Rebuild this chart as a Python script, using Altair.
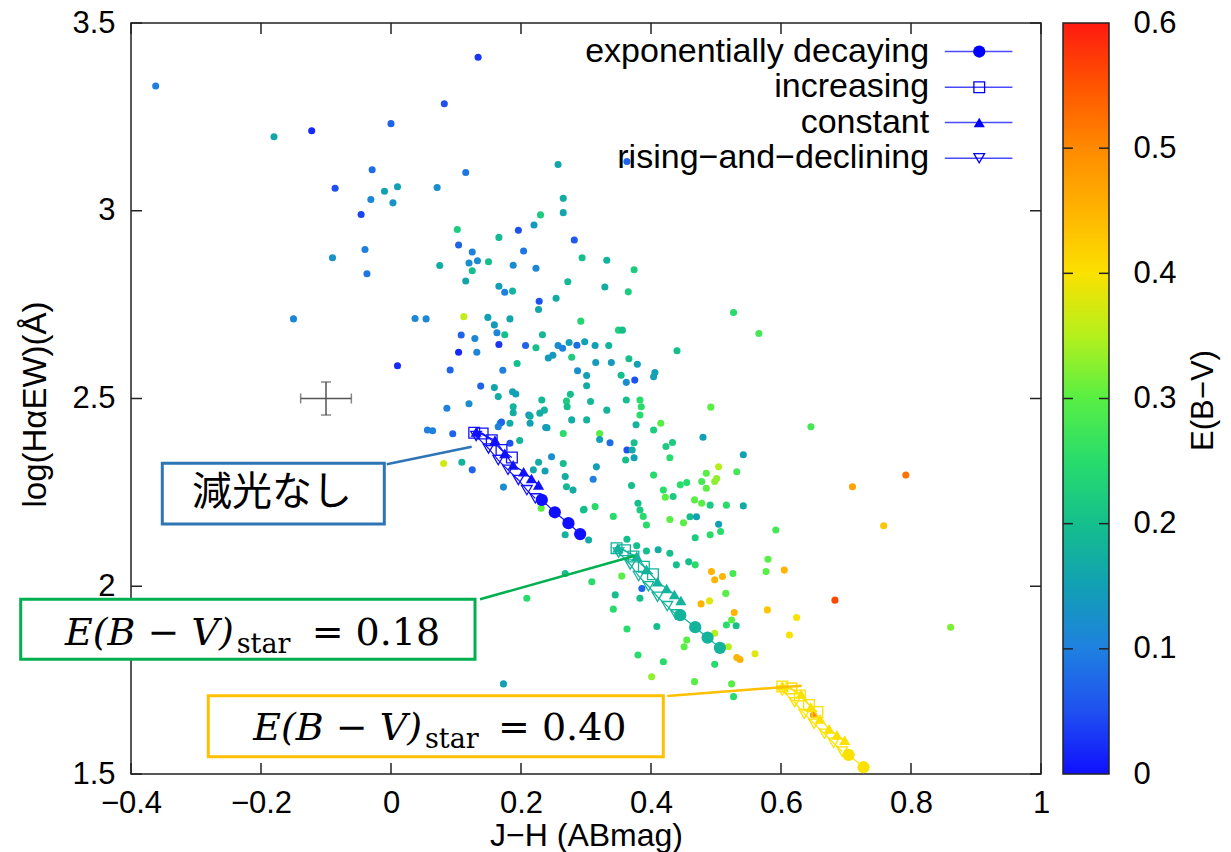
import altair as alt
import pandas as pd

SANS = "Liberation Sans"
SERIF = "DejaVu Serif"
CJK = "Noto Sans CJK JP"

# ---------------- observed galaxies: J-H, log(Ha EW), E(B-V) ----------------
JH = [
    -0.362, 0.134, 0.082, 0.000, -0.180, -0.122, 0.257, -0.029, 0.115, -0.086,
    -0.010, 0.010, 0.071, -0.031, 0.003, 0.265, -0.046, 0.265, 0.230, 0.102,
    0.220, 0.196, 0.166, 0.282, 0.104, -0.040, 0.125, 0.204, -0.090, 0.133,
    0.120, 0.150, 0.294, 0.332, 0.075, 0.188, 0.223, 0.125, -0.037, 0.115,
    0.272, 0.166, 0.175, 0.187, 0.329, 0.365, 0.254, 0.228, 0.227, -0.150,
    0.037, 0.054, 0.112, 0.149, 0.183, 0.292, 0.159, 0.163, 0.175, 0.233,
    0.350, 0.356, 0.108, 0.129, 0.166, 0.207, 0.223, 0.257, 0.264, 0.274,
    0.286, 0.298, 0.314, 0.335, 0.104, 0.132, 0.278, 0.242, 0.249, 0.315,
    0.339, 0.366, 0.194, 0.010, 0.091, 0.172, 0.287, 0.301, 0.354, 0.362,
    0.138, 0.159, 0.187, 0.192, 0.165, 0.301, 0.276, 0.270, 0.232, 0.307,
    0.362, 0.086, 0.120, 0.188, 0.236, 0.271, 0.332, 0.056, 0.064, 0.095,
    0.081, 0.109, 0.125, 0.173, 0.183, 0.198, 0.168, 0.183, 0.212, 0.214,
    0.229, 0.238, 0.247, 0.227, 0.219, 0.237, 0.265, 0.268, 0.270, 0.296,
    0.314, 0.265, 0.278, 0.301, 0.316, 0.311, 0.321, 0.337, 0.363, 0.342,
    0.268, 0.304, 0.268, 0.309, 0.209, 0.345, 0.342, 0.173, 0.363, 0.188,
    0.214, 0.240, 0.170, 0.165, 0.383, 0.385, 0.383, 0.375, 0.415, 0.404,
    0.377, 0.321, 0.374, 0.371, 0.374, 0.361, 0.423, 0.433, 0.429, 0.404,
    0.419, 0.422, 0.434, 0.429, 0.370, 0.380, 0.383, 0.388, 0.393, 0.297,
    0.280, 0.231, 0.409, 0.380, 0.419, 0.401, 0.383, 0.386, 0.429, 0.411,
    0.393, 0.363, 0.378, 0.439, 0.646, 0.792, 0.710, 0.758, 0.683, 0.861,
    0.592, 0.580, 0.577, 0.605, 0.579, 0.624, 0.613, 0.560, 0.542, 0.542,
    0.532, 0.504, 0.501, 0.498, 0.485, 0.478, 0.485, 0.480, 0.492, 0.467,
    0.478, 0.491, 0.516, 0.504, 0.507, 0.491, 0.468, 0.450, 0.460, 0.470,
    0.445, 0.455, 0.458, 0.468, 0.493, 0.498, 0.510, 0.526, 0.515, 0.490,
    0.477, 0.528, 0.524, 0.516, 0.531, 0.498, 0.455, 0.451, 0.519, 0.532,
    0.537, 0.498, 0.524, 0.527, 0.467, 0.355, 0.650, 0.363, 0.374, 0.440,
    0.379, 0.406, 0.404, 0.527, 0.566,
]
LOG_EW = [
    3.332, 3.409, 3.285, 3.232, 3.197, 3.213, 3.123, 3.109, 3.102, 3.060,
    3.052, 3.064, 3.062, 3.030, 3.021, 3.033, 2.990, 2.995, 2.989, 2.950,
    2.962, 2.948, 2.929, 2.922, 2.909, 2.897, 2.890, 2.893, 2.875, 2.867,
    2.861, 2.864, 2.875, 2.868, 2.854, 2.855, 2.847, 2.840, 2.832, 2.813,
    2.811, 2.799, 2.783, 2.786, 2.797, 2.784, 2.767, 2.759, 2.737, 2.712,
    2.713, 2.712, 2.718, 2.716, 2.712, 2.706, 2.696, 2.675, 2.670, 2.670,
    2.682, 2.682, 2.669, 2.660, 2.644, 2.641, 2.635, 2.641, 2.634, 2.649,
    2.642, 2.651, 2.641, 2.641, 2.623, 2.623, 2.610, 2.608, 2.615, 2.596,
    2.596, 2.606, 2.593, 2.587, 2.576, 2.575, 2.574, 2.561, 2.562, 2.543,
    2.533, 2.529, 2.518, 2.512, 2.505, 2.534, 2.511, 2.493, 2.496, 2.492,
    2.496, 2.474, 2.486, 2.478, 2.469, 2.478, 2.469, 2.416, 2.414, 2.406,
    2.327, 2.330, 2.310, 2.264, 2.381, 2.388, 2.434, 2.434, 2.456, 2.434,
    2.461, 2.423, 2.345, 2.330, 2.310, 2.307, 2.327, 2.292, 2.265, 2.203,
    2.212, 2.407, 2.443, 2.443, 2.318, 2.285, 2.407, 2.382, 2.363, 2.186,
    2.137, 2.123, 2.034, 2.012, 1.968, 1.977, 1.939, 1.740, 1.886, 2.462,
    2.453, 2.422, 2.437, 2.425, 2.496, 2.478, 2.456, 2.549, 2.434, 2.416,
    2.430, 2.391, 2.382, 2.363, 2.342, 2.336, 2.372, 2.383, 2.342, 2.296,
    2.256, 2.237, 2.239, 2.178, 2.268, 2.221, 2.203, 2.186, 2.163, 2.205,
    2.256, 2.208, 1.893, 1.817, 1.799, 1.759, 1.968, 1.994, 2.088, 2.097,
    2.094, 2.125, 2.108, 2.057, 2.425, 2.296, 2.265, 2.161, 1.963, 1.891,
    2.150, 2.072, 2.039, 2.043, 1.937, 1.917, 1.870, 1.820, 2.350, 2.214,
    2.305, 2.318, 2.287, 2.279, 2.301, 2.279, 2.261, 2.397, 2.477, 2.230,
    2.221, 2.216, 2.216, 2.165, 2.146, 2.137, 2.129, 2.169, 2.185, 2.185,
    2.270, 2.276, 2.065, 2.057, 2.039, 2.017, 2.026, 2.034, 1.981, 1.961,
    1.953, 1.930, 1.910, 1.897, 1.895, 1.875, 1.857, 1.839, 1.839, 1.810,
    1.805, 1.792, 1.740, 1.706, 1.746, 2.027, 1.657, 3.131, 2.843, 2.627,
    2.591, 2.569, 2.558, 2.729, 2.673,
]
EBV = [
    0.10, 0.03, 0.05, 0.07, 0.16, 0.02, 0.16, 0.08, 0.09, 0.05,
    0.15, 0.15, 0.12, 0.11, 0.13, 0.17, 0.04, 0.16, 0.22, 0.22,
    0.14, 0.05, 0.19, 0.06, 0.07, 0.10, 0.10, 0.09, 0.13, 0.12,
    0.12, 0.20, 0.20, 0.18, 0.17, 0.12, 0.11, 0.20, 0.09, 0.16,
    0.19, 0.15, 0.10, 0.18, 0.17, 0.22, 0.17, 0.05, 0.16, 0.11,
    0.11, 0.11, 0.36, 0.15, 0.16, 0.24, 0.14, 0.11, 0.20, 0.19,
    0.23, 0.20, 0.07, 0.11, 0.03, 0.07, 0.20, 0.12, 0.10, 0.15,
    0.08, 0.15, 0.15, 0.18, 0.02, 0.11, 0.22, 0.14, 0.14, 0.14,
    0.14, 0.20, 0.20, 0.02, 0.07, 0.10, 0.12, 0.15, 0.20, 0.12,
    0.07, 0.16, 0.15, 0.15, 0.17, 0.17, 0.20, 0.22, 0.19, 0.19,
    0.20, 0.10, 0.12, 0.18, 0.18, 0.20, 0.18, 0.10, 0.10, 0.07,
    0.37, 0.18, 0.07, 0.12, 0.05, 0.18, 0.15, 0.17, 0.12, 0.15,
    0.17, 0.13, 0.12, 0.17, 0.16, 0.15, 0.20, 0.17, 0.19, 0.22,
    0.25, 0.25, 0.17, 0.18, 0.15, 0.10, 0.30, 0.08, 0.05, 0.25,
    0.18, 0.17, 0.20, 0.25, 0.25, 0.20, 0.25, 0.15, 0.25, 0.17,
    0.17, 0.15, 0.07, 0.10, 0.25, 0.25, 0.25, 0.05, 0.30, 0.22,
    0.18, 0.15, 0.20, 0.17, 0.15, 0.20, 0.22, 0.22, 0.25, 0.25,
    0.25, 0.30, 0.22, 0.30, 0.20, 0.20, 0.22, 0.25, 0.25, 0.20,
    0.17, 0.30, 0.20, 0.25, 0.25, 0.33, 0.20, 0.07, 0.20, 0.17,
    0.20, 0.20, 0.20, 0.20, 0.28, 0.52, 0.47, 0.43, 0.56, 0.32,
    0.28, 0.30, 0.30, 0.45, 0.43, 0.40, 0.40, 0.38, 0.15, 0.17,
    0.28, 0.35, 0.33, 0.33, 0.30, 0.28, 0.30, 0.15, 0.30, 0.30,
    0.30, 0.22, 0.25, 0.15, 0.25, 0.25, 0.22, 0.30, 0.20, 0.15,
    0.25, 0.25, 0.20, 0.25, 0.45, 0.45, 0.45, 0.28, 0.30, 0.38,
    0.45, 0.45, 0.30, 0.25, 0.20, 0.35, 0.30, 0.30, 0.35, 0.45,
    0.45, 0.25, 0.30, 0.25, 0.30, 0.30, 0.50, 0.07, 0.22, 0.20,
    0.15, 0.15, 0.15, 0.25, 0.28,
]
assert len(JH) == len(LOG_EW) == len(EBV)

# ---------------- model tracks (one list per E(B-V)_star) ----------------
TRACK_EBV = [0.0, 0.18, 0.40]
EXP_X = [[0.232, 0.252, 0.273, 0.291], [0.445, 0.468, 0.487, 0.506], [0.704, 0.727]]
EXP_Y = [[2.230, 2.197, 2.168, 2.139], [1.923, 1.891, 1.863, 1.836], [1.551, 1.518]]
INC_X = [[0.128, 0.141, 0.155, 0.170, 0.186], [0.347, 0.360, 0.373, 0.389, 0.403],
         [0.602, 0.616, 0.629, 0.643, 0.656]]
INC_Y = [[2.409, 2.407, 2.389, 2.363, 2.343], [2.101, 2.096, 2.079, 2.052, 2.032],
         [1.733, 1.728, 1.709, 1.684, 1.665]]
CON_X = [[0.131, 0.160, 0.175, 0.188, 0.204, 0.216, 0.227],
         [0.349, 0.378, 0.393, 0.410, 0.424, 0.436, 0.446],
         [0.602, 0.631, 0.646, 0.660, 0.674, 0.686, 0.698]]
CON_Y = [[2.411, 2.389, 2.354, 2.323, 2.305, 2.287, 2.270],
         [2.102, 2.080, 2.045, 2.012, 1.994, 1.978, 1.962],
         [1.735, 1.713, 1.678, 1.647, 1.620, 1.604, 1.590]]
RIS_X = [[0.131, 0.150, 0.165, 0.180, 0.196, 0.209, 0.222],
         [0.350, 0.368, 0.381, 0.396, 0.410, 0.425, 0.438],
         [0.602, 0.621, 0.636, 0.651, 0.667, 0.681, 0.694]]
RIS_Y = [[2.400, 2.367, 2.336, 2.310, 2.283, 2.256, 2.234],
         [2.090, 2.058, 2.027, 2.000, 1.972, 1.947, 1.925],
         [1.722, 1.691, 1.660, 1.634, 1.607, 1.583, 1.560]]

SFH_NAMES = ["exponentially decaying", "increasing", "constant", "rising\u2212and\u2212declining"]
LEGEND_Y = [3.424, 3.329, 3.235, 3.140]

XTICKS = [-0.4, -0.2, 0.0, 0.2, 0.4, 0.6, 0.8, 1.0]
YTICKS = [1.5, 2.0, 2.5, 3.0, 3.5]
CB_VALUES = [0, 0.1, 0.2, 0.3, 0.4, 0.5, 0.6]
CB_INNER_TICKS = [0.1, 0.2, 0.3, 0.4, 0.5]
CB_STOPS = [0, 0.05, 0.1, 0.15, 0.2, 0.25, 0.3, 0.35, 0.4, 0.45, 0.5, 0.55, 0.6]
CB_COLORS = ["#1010ff", "#1f50f0", "#1f80e0", "#12a0b4", "#14bf8c", "#28dc6c", "#58ef44",
             "#b4f01c", "#fbe100", "#ffb400", "#ff8a00", "#ff5400", "#ff1a10"]

# error bar (typical uncertainty)
ERR_X, ERR_Y, ERR_DX, ERR_DY = -0.100, 2.500, 0.039, 0.044

W, H = 910, 751
CB_X0, CB_X1 = 932, 978          # colorbar left/right, relative to plot origin

# ---------------- build tables ----------------
df_sc = pd.DataFrame({"x": JH, "y": LOG_EW, "e": EBV})

rows = []
for name, XS, YS in zip(SFH_NAMES, [EXP_X, INC_X, CON_X, RIS_X], [EXP_Y, INC_Y, CON_Y, RIS_Y]):
    for e, xs, ys in zip(TRACK_EBV, XS, YS):
        for i, (xv, yv) in enumerate(zip(xs, ys)):
            rows.append({"sfh": name, "e": e, "i": i, "x": xv, "y": yv})
df_tr = pd.DataFrame(rows)

df_leg = pd.DataFrame({"label": SFH_NAMES, "y": LEGEND_Y})
df_err = pd.DataFrame({"x": [ERR_X], "y": [ERR_Y],
                       "xlo": [ERR_X - ERR_DX], "xhi": [ERR_X + ERR_DX],
                       "ylo": [ERR_Y - ERR_DY], "yhi": [ERR_Y + ERR_DY]})

xs = alt.Scale(domain=[-0.4, 1.0], nice=False, zero=False)
ys = alt.Scale(domain=[1.5, 3.5], nice=False, zero=False)
cs = alt.Scale(domain=CB_STOPS, range=CB_COLORS, interpolate="rgb")

xaxis = alt.Axis(values=XTICKS, format="~g", labelFont=SANS, labelFontSize=31, labelColor="black",
                 labelPadding=14, labelFlush=False, labelOverlap=False, ticks=False, domain=False,
                 grid=False, title="J\u2212H (ABmag)", titleFont=SANS, titleFontSize=32,
                 titleFontWeight="normal", titleColor="black", titleBaseline="alphabetic", titleY=71)
yaxis = alt.Axis(values=YTICKS, format="~g", labelFont=SANS, labelFontSize=31, labelColor="black",
                 labelPadding=16, labelFlush=False, labelOverlap=False, ticks=False, domain=False,
                 grid=False, title="log(H\u03b1EW)(\u00c5)", titleFont=SANS, titleFontSize=33,
                 titleFontWeight="normal", titleColor="black", titleAngle=270, titleX=-96,
                 titleY=381, titleAlign="center", titleBaseline="middle")

layers = []

scatter = alt.Chart(df_sc).mark_circle(size=50, opacity=1).encode(
    x=alt.X("x:Q", scale=xs, axis=xaxis),
    y=alt.Y("y:Q", scale=ys, axis=yaxis),
    color=alt.Color("e:Q", scale=cs, legend=None),
)
layers.append(scatter)

# error bar
eb_col = "#555555"
layers.append(alt.Chart(df_err).mark_rule(color=eb_col, strokeWidth=1.5).encode(
    x="xlo:Q", x2="xhi:Q", y="y:Q"))
layers.append(alt.Chart(df_err).mark_rule(color=eb_col, strokeWidth=1.5).encode(
    x="x:Q", y="ylo:Q", y2="yhi:Q"))
for fx in ["xlo", "xhi"]:
    layers.append(alt.Chart(df_err).mark_tick(orient="vertical", size=10, thickness=1.5,
                                              color=eb_col).encode(x=f"{fx}:Q", y="y:Q"))
for fy in ["ylo", "yhi"]:
    layers.append(alt.Chart(df_err).mark_tick(orient="horizontal", size=10, thickness=1.5,
                                              color=eb_col).encode(x="x:Q", y=f"{fy}:Q"))

# model tracks
SHAPES = {
    SFH_NAMES[0]: dict(shape="circle", filled=True, size=150),
    SFH_NAMES[1]: dict(shape="square", filled=False, size=115),
    SFH_NAMES[2]: dict(shape="triangle-up", filled=True, size=125),
    SFH_NAMES[3]: dict(shape="triangle-down", filled=False, size=115),
}
for name in SFH_NAMES:
    base = alt.Chart(df_tr).transform_filter(alt.datum.sfh == name)
    layers.append(base.mark_line(strokeWidth=1.2, clip=True).encode(
        x="x:Q", y="y:Q", color=alt.Color("e:Q", scale=cs, legend=None), detail="e:N",
        order="i:Q"))
    st = SHAPES[name]
    layers.append(base.mark_point(shape=st["shape"], filled=st["filled"], size=st["size"],
                                  opacity=1, strokeWidth=1.3, clip=True).encode(
        x="x:Q", y="y:Q", color=alt.Color("e:Q", scale=cs, legend=None)))

# manual legend (labels left of symbols)
LEG_BLUE = "#0000ff"
layers.append(alt.Chart(df_leg).mark_text(align="right", baseline="middle", font=SANS,
                                          fontSize=34, color="black").encode(
    x=alt.datum(0.828), y="y:Q", text="label:N"))
layers.append(alt.Chart(df_leg).mark_rule(color="#4a4aff", strokeWidth=1.5).encode(
    x=alt.datum(0.852), x2=alt.datum(0.956), y="y:Q"))
for name in SFH_NAMES:
    st = SHAPES[name]
    layers.append(alt.Chart(df_leg).transform_filter(alt.datum.label == name).mark_point(
        shape=st["shape"], filled=st["filled"], size=st["size"], opacity=1, strokeWidth=1.3,
        color=LEG_BLUE).encode(x=alt.datum(0.905), y="y:Q"))

# inward ticks on all four sides
frame_col = "#222222"
dfx = pd.DataFrame({"x": XTICKS})
dfy = pd.DataFrame({"y": YTICKS})
layers.append(alt.Chart(dfx).mark_rule(color=frame_col, strokeWidth=1.5).encode(
    x="x:Q", y=alt.value(H), y2=alt.value(H - 11)))
layers.append(alt.Chart(dfx).mark_rule(color=frame_col, strokeWidth=1.5).encode(
    x="x:Q", y=alt.value(0), y2=alt.value(11)))
layers.append(alt.Chart(dfy).mark_rule(color=frame_col, strokeWidth=1.5).encode(
    y="y:Q", x=alt.value(0), x2=alt.value(11)))
layers.append(alt.Chart(dfy).mark_rule(color=frame_col, strokeWidth=1.5).encode(
    y="y:Q", x=alt.value(W), x2=alt.value(W - 11)))

# ---------------- callout annotations ----------------
one = pd.DataFrame({"a": [0]})


def box(x0, y0, x1, y1, col):
    return alt.Chart(one).mark_rect(fill="white", stroke=col, strokeWidth=3).encode(
        x=alt.value(x0), x2=alt.value(x1), y=alt.value(y0), y2=alt.value(y1))


def leader(x0, y0, x1, y1, col):
    return alt.Chart(one).mark_rule(color=col, strokeWidth=2.5).encode(
        x=alt.value(x0), x2=alt.value(x1), y=alt.value(y0), y2=alt.value(y1))


def label(txt, x0, y0, size, font, style="normal", align="left", baseline="alphabetic"):
    return alt.Chart(one).mark_text(text=txt, font=font, fontSize=size, fontStyle=style,
                                    align=align, baseline=baseline, color="black").encode(
        x=alt.value(x0), y=alt.value(y0))


BLUE_C, GREEN_C, GOLD_C = "#2e75b6", "#00b050", "#ffc000"
layers += [
    leader(255.7, 441.3, 340.7, 423.7, BLUE_C),
    box(31.3, 440.3, 253.3, 501.0, BLUE_C),
    label("減光なし", 141, 470, 40, CJK, align="center", baseline="middle"),
    leader(349, 576.3, 504, 532.7, GREEN_C),
    box(-110.3, 576.3, 344, 636.3, GREEN_C),
    label("E(B \u2212 V)", -66, 622, 38, SERIF, style="italic"),
    label("star", 105.7, 629.7, 27, SERIF),
    label("= 0.18", 180.7, 622, 38, SERIF),
    leader(536.3, 673, 670.7, 662.7, GOLD_C),
    box(77.3, 672.7, 532.3, 733.7, GOLD_C),
    label("E(B \u2212 V)", 122.3, 717, 38, SERIF, style="italic"),
    label("star", 294, 725.3, 27, SERIF),
    label("= 0.40", 367, 717, 38, SERIF),
]

main = alt.layer(*layers)

# ---------------- colorbar (own y scale, axis on the right) ----------------
cbs = alt.Scale(domain=[CB_STOPS[0], CB_STOPS[-1]], nice=False, zero=False)
grad = alt.LinearGradient(
    gradient="linear", x1=0, x2=0, y1=1, y2=0,
    stops=[alt.GradientStop(offset=s / CB_STOPS[-1], color=c) for s, c in zip(CB_STOPS, CB_COLORS)],
)
cb_axis = alt.Axis(orient="right", offset=CB_X1 - W, values=CB_VALUES, format="~g",
                   labelFont=SANS, labelFontSize=31, labelColor="black", labelPadding=24,
                   labelOverlap=False, labelFlush=False, ticks=False, domain=False, grid=False,
                   title="E(B\u2212V)", titleFont=SANS, titleFontSize=31, titleFontWeight="normal",
                   titleColor="black", titleAngle=270, titleX=94, titleY=377,
                   titleAlign="center", titleBaseline="middle")
df_cb = pd.DataFrame({"v0": [CB_STOPS[0]], "v1": [CB_STOPS[-1]]})
cb_rect = alt.Chart(df_cb).mark_rect(fill=grad, stroke=frame_col, strokeWidth=1.5).encode(
    x=alt.value(CB_X0), x2=alt.value(CB_X1),
    y=alt.Y("v0:Q", scale=cbs, axis=cb_axis), y2="v1:Q")
df_cbt = pd.DataFrame({"v0": CB_INNER_TICKS})
cb_t1 = alt.Chart(df_cbt).mark_rule(color=frame_col, strokeWidth=1.5).encode(
    y="v0:Q", x=alt.value(CB_X0), x2=alt.value(CB_X0 + 10))
cb_t2 = alt.Chart(df_cbt).mark_rule(color=frame_col, strokeWidth=1.5).encode(
    y="v0:Q", x=alt.value(CB_X1 - 10), x2=alt.value(CB_X1))
colorbar = alt.layer(cb_rect, cb_t1, cb_t2)

chart = alt.layer(main, colorbar).resolve_scale(y="independent").properties(
    width=W, height=H,
    autosize=alt.AutoSizeParams(type="none"),
    padding={"left": 131, "top": 23, "right": 190, "bottom": 78},
    background="white",
).configure_view(stroke=frame_col, strokeWidth=1.5)

chart.save("out.html", embed_options={"renderer": "svg", "actions": False})
